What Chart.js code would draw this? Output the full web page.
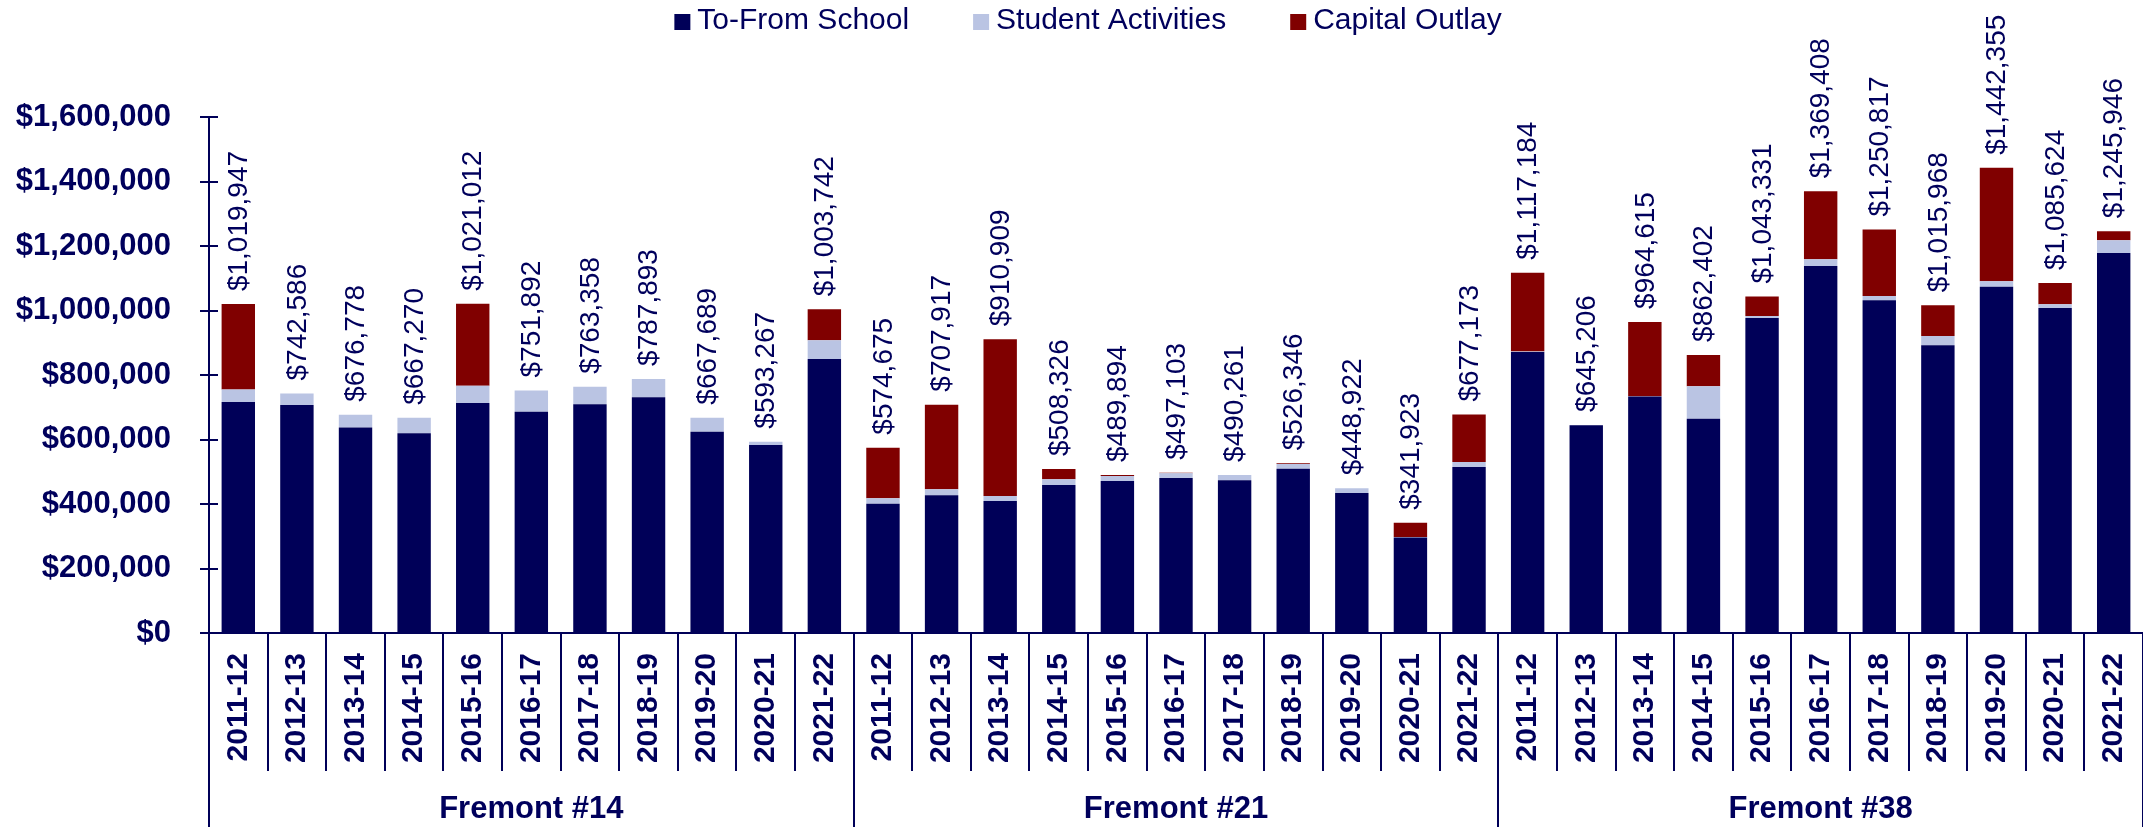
<!DOCTYPE html>
<html>
<head>
<meta charset="utf-8">
<script src="https://cdn.jsdelivr.net/npm/chart.js@4/dist/chart.umd.min.js"></script>
<style>
  html, body { margin: 0; padding: 0; background: #fff; }
  #wrap { width: 2143px; height: 827px; }
</style>
</head>
<body>
<div id="wrap"><canvas id="myChart" width="2143" height="827"></canvas></div>
<script>
const groups = ["Fremont #14", "Fremont #21", "Fremont #38"];
const years = ["2011-12", "2012-13", "2013-14", "2014-15", "2015-16", "2016-17",
               "2017-18", "2018-19", "2019-20", "2020-21", "2021-22"];

const toFromSchool = [
  716000, 707000, 637000, 619000, 713000, 686000, 709000, 731000, 624000, 583000, 850000,
  401000, 427000, 409000, 459000, 471000, 481000, 474000, 509000, 434000, 296000, 515000,
  871000, 644000, 733000, 664000, 977000, 1138000, 1032000, 892000, 1074000, 1008000, 1178000
];
const studentActivities = [
  39000, 35586, 39778, 48270, 54000, 65892, 54358, 56893, 43689, 10267, 58000,
  17000, 19000, 16000, 18000, 16000, 14000, 16261, 15000, 14922, 2000, 15000,
  2000, 1206, 1000, 101000, 6000, 21000, 13000, 29000, 17000, 11000, 40000
];
const capitalOutlay = [
  264947, 0, 0, 0, 254012, 0, 0, 0, 0, 0, 95742,
  156675, 261917, 485909, 31326, 2894, 2103, 0, 2346, 0, 43923, 147173,
  244184, 0, 230615, 97402, 60331, 210408, 205817, 94968, 351355, 66624, 27946
];
const totals = [
  1019947, 742586, 676778, 667270, 1021012, 751892, 763358, 787893, 667689, 593267, 1003742,
  574675, 707917, 910909, 508326, 489894, 497103, 490261, 526346, 448922, 341923, 677173,
  1117184, 645206, 964615, 862402, 1043331, 1369408, 1250817, 1015968, 1442355, 1085624, 1245946
];

const navy = "#000058";
const textNavy = "#00005c";
const FONT = "'Liberation Sans', Arial, sans-serif";

var labels = [];
groups.forEach(function (g) { years.forEach(function (y) { labels.push(y); }); });

function money(v) { return "$" + Number(v).toLocaleString("en-US"); }

const decorations = {
  id: "decorations",
  afterDatasetsDraw: function (chart) {
    const ctx = chart.ctx, x = chart.scales.x, y = chart.scales.y;
    ctx.save();
    ctx.fillStyle = textNavy;
    ctx.font = "28px " + FONT;
    ctx.textAlign = "left";
    ctx.textBaseline = "middle";
    for (var i = 0; i < totals.length; i++) {
      const px = x.getPixelForValue(i);
      const py = y.getPixelForValue(totals[i]);
      ctx.save();
      ctx.translate(px + 1, py - 13);
      ctx.rotate(-Math.PI / 2);
      ctx.fillText(money(totals[i]), 0, 0);
      ctx.restore();
    }
    ctx.restore();
  },
  afterDraw: function (chart) {
    const ctx = chart.ctx, y = chart.scales.y;
    const area = chart.chartArea;
    const n = labels.length;
    const cw = (area.right - area.left) / n;
    ctx.save();
    ctx.strokeStyle = navy;
    ctx.lineWidth = 2;
    ctx.beginPath();
    for (var i = 0; i <= n; i++) {
      const bx = Math.round(area.left + i * cw);
      const bottom = (i % years.length === 0) ? 827 : 771;
      ctx.moveTo(bx, area.bottom);
      ctx.lineTo(bx, bottom);
    }
    // right-hand stubs of y ticks
    y.ticks.forEach(function (t) {
      const py = Math.round(y.getPixelForValue(t.value));
      ctx.moveTo(area.left, py);
      ctx.lineTo(area.left + 9, py);
    });
    ctx.moveTo(area.left - 9, area.bottom);
    ctx.lineTo(area.left, area.bottom);
    ctx.stroke();

    // group labels
    ctx.fillStyle = textNavy;
    ctx.font = "bold 31px " + FONT;
    ctx.textAlign = "center";
    ctx.textBaseline = "middle";
    groups.forEach(function (g, gi) {
      const cx = area.left + (gi + 0.5) * years.length * cw;
      ctx.fillText(g, cx, 809);
    });

    // legend
    ctx.font = "30px " + FONT;
    ctx.textAlign = "left";
    const box = 16, gap = 7, spacing = 64;
    const ds = chart.data.datasets;
    var widths = ds.map(function (d) { return box + gap + ctx.measureText(d.label).width; });
    var total = widths.reduce(function (a, b) { return a + b; }, 0) + spacing * (ds.length - 1);
    var lx = 1088 - total / 2;
    ds.forEach(function (d, di) {
      ctx.fillStyle = d.backgroundColor;
      ctx.fillRect(lx, 14, box, box);
      ctx.fillStyle = textNavy;
      ctx.fillText(d.label, lx + box + gap, 21);
      lx += widths[di] + spacing;
    });
    ctx.restore();
  }
};

var ctx = document.getElementById("myChart").getContext("2d");
var myChart = new Chart(ctx, {
  type: "bar",
  data: {
    labels: labels,
    datasets: [
      { label: "To-From School", data: toFromSchool, backgroundColor: navy },
      { label: "Student Activities", data: studentActivities, backgroundColor: "#bac4e3" },
      { label: "Capital Outlay", data: capitalOutlay, backgroundColor: "#800000" }
    ]
  },
  options: {
    responsive: false,
    animation: false,
    devicePixelRatio: 1,
    layout: { padding: { left: 0, right: 0, top: 117, bottom: 0 } },
    datasets: {
      bar: { categoryPercentage: 1.0, barPercentage: 0.57, borderWidth: 0 }
    },
    plugins: {
      legend: { display: false },
      tooltip: { enabled: false }
    },
    scales: {
      x: {
        stacked: true,
        grid: { display: false, drawTicks: false },
        border: { display: true, color: navy, width: 2 },
        ticks: {
          autoSkip: false,
          maxRotation: 90,
          minRotation: 90,
          padding: 20,
          color: textNavy,
          font: { family: FONT, size: 30, weight: "bold" }
        },
        afterFit: function (scale) {
          scale.height = 194;
          scale.paddingLeft = 0;
          scale.paddingRight = 0;
        }
      },
      y: {
        stacked: true,
        min: 0,
        max: 1600000,
        grid: { drawOnChartArea: false, tickLength: 9, color: navy, lineWidth: 2 },
        border: { display: true, color: navy, width: 2 },
        ticks: {
          stepSize: 200000,
          padding: 29,
          color: textNavy,
          font: { family: FONT, size: 31, weight: "bold" },
          callback: function (v) { return money(v); }
        },
        afterFit: function (scale) {
          scale.width = 209;
          scale.paddingTop = 0;
          scale.paddingBottom = 0;
        }
      }
    }
  },
  plugins: [decorations]
});
</script>
</body>
</html>
